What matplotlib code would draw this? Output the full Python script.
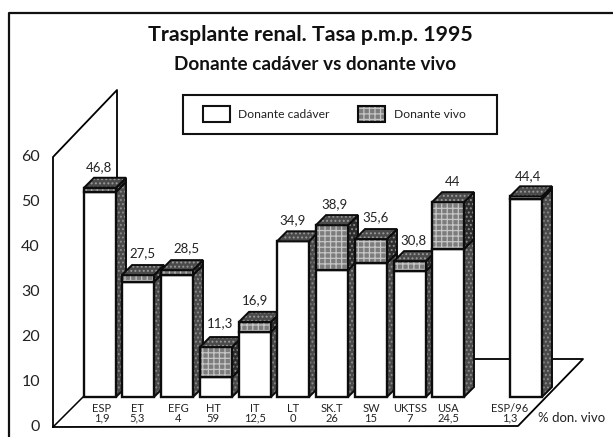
import matplotlib
matplotlib.use('Agg')
import matplotlib.pyplot as plt
from matplotlib.patches import Polygon, Rectangle

plt.rcParams['font.family'] = ['Lato', 'DejaVu Sans']
plt.rcParams['hatch.linewidth'] = 0.9

countries = ['ESP', 'ET', 'EFG', 'HT', 'IT', 'LT', 'SK.T', 'SW', 'UKTSS', 'USA', 'ESP/96']
pct_vivo = ['1,9', '5,3', '4', '59', '12,5', '0', '26', '15', '7', '24,5', '1,3']
totals = ['46,8', '27,5', '28,5', '11,3', '16,9', '34,9', '38,9', '35,6', '30,8', '44', '44,4']
cadaver = [45.6, 25.6, 27.1, 4.4, 14.5, 34.6, 28.2, 29.8, 28.0, 32.9, 44.0]
vivo = [0.9, 1.5, 1.1, 6.7, 2.2, 0.0, 10.0, 5.3, 2.2, 10.4, 0.6]
y_ticks = [0, 10, 20, 30, 40, 50, 60]

# layout, in pixels of the reference
bar_left = [84, 122, 161, 200, 239, 277, 316, 355, 394, 432, 510]
name_x = [102, 137, 178, 213, 255, 293, 332, 371, 410, 448, 510]
total_x = [99, 142, 186, 220, 255, 293, 335, 376, 413, 453, 528]
total_y = [167, 253, 248, 323, 300, 220, 204, 217, 240, 182, 176]

BAR_W = 32
DX = 10
PX = 4.5      # pixels per unit
DY = 10 / PX
LINE = '#0c0c0c'


def py(pix):
    # pixel row of the reference -> value, floor of the bars is 0
    return (397 - pix) / PX


def textured(pts, face, grain, hatch, z, lw=1.4):
    # hatch colour comes from edgecolor, so the outline goes on as a second patch
    ax.add_patch(Polygon(pts, facecolor=face, edgecolor=grain, hatch=hatch, lw=0, zorder=z))
    ax.add_patch(Polygon(pts, fill=False, edgecolor=LINE, lw=lw, zorder=z))


def box(x, y0, y1, face, grain, hatch, z, side_face):
    textured([(x + BAR_W, y0), (x + BAR_W + DX, y0 + DY), (x + BAR_W + DX, y1 + DY), (x + BAR_W, y1)],
             side_face, '#8c8c8c', '....', z)
    textured([(x, y0), (x + BAR_W, y0), (x + BAR_W, y1), (x, y1)], face, grain, hatch, z + 0.1, 1.7)


fig = plt.figure(figsize=(6.13, 4.37), dpi=100)
ax = fig.add_axes([0, 0, 1, 1])
ax.set_xlim(0, 613)
ax.set_ylim(py(437), py(0))
ax.axis('off')

# frame, no right side in the scan
ax.plot([9, 9, 613], [py(437), py(13), py(13)], color='#111111', lw=1.6)

# wall and floor
ax.plot([53, 53, 117, 117], [py(427), py(157), py(90), py(180)], color='k', lw=1.3)
ax.plot([53, 83], [py(427), py(397)], color='k', lw=1.1)
ax.plot([53, 518, 583, 475], [py(427), py(426), py(359), py(359)], color='k', lw=1.3, zorder=1)

for t in y_ticks:
    ax.text(40, py(427 - t * 4.5), str(t), ha='right', va='center', fontsize=11.5, color='#222222')

for i in range(len(countries)):
    x = bar_left[i]
    c = cadaver[i]
    total = c + vivo[i]
    box(x, 0, c, 'white', 'white', None, 3 + i, '#4a4a4a')
    if vivo[i] > 0:
        box(x, c, total, '#7c7c7c', '#c6c6c6', '+++', 3 + i + 0.2, '#2c2c2c')
    textured([(x, total), (x + DX, total + DY), (x + BAR_W + DX, total + DY), (x + BAR_W, total)],
             '#4a4a4a', '#9a9a9a', '....', 3 + i + 0.3)
    ax.text(total_x[i], py(total_y[i]), totals[i], ha='center', va='center', fontsize=9.5, color='#222222', zorder=20)
    ax.text(name_x[i], py(408), countries[i], ha='center', va='center', fontsize=8, color='#222222')
    ax.text(name_x[i], py(418), pct_vivo[i], ha='center', va='center', fontsize=8, color='#222222')

ax.text(538, py(418), '% don. vivo', ha='left', va='center', fontsize=9.5, color='#222222')

# titles
ax.text(310, py(35), 'Trasplante renal. Tasa p.m.p. 1995', ha='center', va='center', fontsize=15.4, fontweight='bold', color='#111111')
ax.text(315, py(65), 'Donante cadáver vs donante vivo', ha='center', va='center', fontsize=13.6, fontweight='bold', color='#111111')

# legend
ax.add_patch(Rectangle((183, py(134)), 314, py(95) - py(134), facecolor='white', edgecolor='#111111', lw=1.5, zorder=2))
ax.add_patch(Rectangle((203, py(122)), 27, py(106) - py(122), facecolor='white', edgecolor='#111111', lw=1.5, zorder=2.1))
textured([(358, py(122)), (385, py(122)), (385, py(106)), (358, py(106))], '#7c7c7c', '#c6c6c6', '+++', 2.1, 1.5)
ax.text(238, py(115), 'Donante cadáver', ha='left', va='center', fontsize=8.7, color='#222222', zorder=3)
ax.text(394, py(115), 'Donante vivo', ha='left', va='center', fontsize=8.7, color='#222222', zorder=3)

fig.savefig('out.png', dpi=100)
